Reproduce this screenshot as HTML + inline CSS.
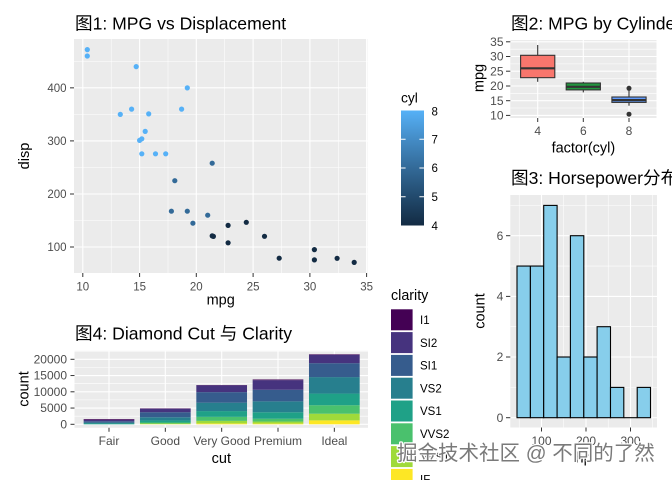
<!DOCTYPE html>
<html><head><meta charset="utf-8"><style>
html,body{margin:0;padding:0;background:#fff;}
svg{display:block;}
text{font-family:"Liberation Sans","Noto Sans CJK SC",sans-serif;}
.tk{fill:#4D4D4D;font-size:11.5px;}
.tk2{fill:#4D4D4D;font-size:12px;}
.at{fill:#000;font-size:14.5px;}
.tt{fill:#000;font-size:17.6px;}
.lg{fill:#000;font-size:11.5px;}
.gM{stroke:#fff;stroke-width:1.1;}
.gm{stroke:#fff;stroke-width:0.55;}
.tm{stroke:#333;stroke-width:1;}
</style></head><body>
<svg width="672" height="480" viewBox="0 0 672 480" xmlns="http://www.w3.org/2000/svg">
<defs>
<linearGradient id="cg" x1="0" y1="1" x2="0" y2="0">
<stop offset="0" stop-color="#132B43"/><stop offset="0.25" stop-color="#224A6D"/><stop offset="0.5" stop-color="#336A98"/><stop offset="0.75" stop-color="#448CC6"/><stop offset="1" stop-color="#56B1F7"/>
</linearGradient>
</defs>
<rect width="672" height="480" fill="#fff"/>

<!-- Plot 1 -->
<text class="tt" x="75" y="29.3">图1: MPG vs Displacement</text>
<rect x="74" y="39" width="293.5" height="234" fill="#EBEBEB"/>
<g class="gm">
<line x1="74" x2="367.5" y1="220.5" y2="220.5"/><line x1="74" x2="367.5" y1="167.4" y2="167.4"/><line x1="74" x2="367.5" y1="114.4" y2="114.4"/><line x1="74" x2="367.5" y1="61.4" y2="61.4"/>
<line y1="39" y2="273" x1="111.2" x2="111.2"/><line y1="39" y2="273" x1="168" x2="168"/><line y1="39" y2="273" x1="224.7" x2="224.7"/><line y1="39" y2="273" x1="281.5" x2="281.5"/><line y1="39" y2="273" x1="338.3" x2="338.3"/>
</g>
<g class="gM">
<line x1="74" x2="367.5" y1="247" y2="247"/><line x1="74" x2="367.5" y1="194" y2="194"/><line x1="74" x2="367.5" y1="140.9" y2="140.9"/><line x1="74" x2="367.5" y1="87.85" y2="87.85"/>
<line y1="39" y2="273" x1="82.8" x2="82.8"/><line y1="39" y2="273" x1="139.6" x2="139.6"/><line y1="39" y2="273" x1="196.3" x2="196.3"/><line y1="39" y2="273" x1="253.1" x2="253.1"/><line y1="39" y2="273" x1="309.9" x2="309.9"/><line y1="39" y2="273" x1="366.6" x2="366.6"/>
</g>
<g class="tm">
<line x1="70" x2="74" y1="247" y2="247"/><line x1="70" x2="74" y1="194" y2="194"/><line x1="70" x2="74" y1="140.9" y2="140.9"/><line x1="70" x2="74" y1="87.85" y2="87.85"/>
<line y1="273" y2="277" x1="82.8" x2="82.8"/><line y1="273" y2="277" x1="139.6" x2="139.6"/><line y1="273" y2="277" x1="196.3" x2="196.3"/><line y1="273" y2="277" x1="253.1" x2="253.1"/><line y1="273" y2="277" x1="309.9" x2="309.9"/><line y1="273" y2="277" x1="366.6" x2="366.6"/>
</g>
<g class="tk" text-anchor="end">
<text x="66.5" y="251">100</text><text x="66.5" y="198">200</text><text x="66.5" y="145">300</text><text x="66.5" y="92">400</text>
</g>
<g class="tk" text-anchor="middle">
<text x="82.8" y="290.5">10</text><text x="139.6" y="290.5">15</text><text x="196.3" y="290.5">20</text><text x="253.1" y="290.5">25</text><text x="309.9" y="290.5">30</text><text x="366.6" y="290.5">35</text>
</g>
<text class="at" x="220.7" y="304.5" text-anchor="middle">mpg</text>
<text class="at" x="29" y="156" text-anchor="middle" transform="rotate(-90 29 156)">disp</text>
<g>
<circle cx="207.7" cy="215.2" r="2.6" fill="#336A98"/>
<circle cx="228.1" cy="242.8" r="2.6" fill="#132B43"/>
<circle cx="212.2" cy="163.2" r="2.6" fill="#336A98"/>
<circle cx="181.6" cy="109.1" r="2.6" fill="#56B1F7"/>
<circle cx="174.8" cy="180.7" r="2.6" fill="#336A98"/>
<circle cx="131.6" cy="109.1" r="2.6" fill="#56B1F7"/>
<circle cx="246.3" cy="222.3" r="2.6" fill="#132B43"/>
<circle cx="228.1" cy="225.4" r="2.6" fill="#132B43"/>
<circle cx="187.3" cy="211.2" r="2.6" fill="#336A98"/>
<circle cx="171.4" cy="211.2" r="2.6" fill="#336A98"/>
<circle cx="155.5" cy="153.8" r="2.6" fill="#56B1F7"/>
<circle cx="165.7" cy="153.8" r="2.6" fill="#56B1F7"/>
<circle cx="141.8" cy="153.8" r="2.6" fill="#56B1F7"/>
<circle cx="87.3" cy="49.6" r="2.6" fill="#56B1F7"/>
<circle cx="87.3" cy="56" r="2.6" fill="#56B1F7"/>
<circle cx="136.2" cy="66.6" r="2.6" fill="#56B1F7"/>
<circle cx="337.1" cy="258.3" r="2.6" fill="#132B43"/>
<circle cx="314.4" cy="259.9" r="2.6" fill="#132B43"/>
<circle cx="354.2" cy="262.4" r="2.6" fill="#132B43"/>
<circle cx="213.4" cy="236.4" r="2.6" fill="#132B43"/>
<circle cx="145.2" cy="131.4" r="2.6" fill="#56B1F7"/>
<circle cx="141.8" cy="138.8" r="2.6" fill="#56B1F7"/>
<circle cx="120.3" cy="114.4" r="2.6" fill="#56B1F7"/>
<circle cx="187.3" cy="87.9" r="2.6" fill="#56B1F7"/>
<circle cx="279.2" cy="258.2" r="2.6" fill="#132B43"/>
<circle cx="264.5" cy="236.3" r="2.6" fill="#132B43"/>
<circle cx="314.4" cy="249.6" r="2.6" fill="#132B43"/>
<circle cx="148.7" cy="113.9" r="2.6" fill="#56B1F7"/>
<circle cx="192.9" cy="223.2" r="2.6" fill="#336A98"/>
<circle cx="139.6" cy="140.4" r="2.6" fill="#56B1F7"/>
<circle cx="212.2" cy="235.9" r="2.6" fill="#132B43"/>
</g>
<!-- cyl legend -->
<text x="401" y="102.5" style="font-size:13.8px">cyl</text>
<rect x="401" y="110.5" width="23" height="115" fill="url(#cg)"/>
<g stroke="#fff" stroke-width="1">
<line x1="401" x2="405.6" y1="196.75" y2="196.75"/><line x1="419.4" x2="424" y1="196.75" y2="196.75"/>
<line x1="401" x2="405.6" y1="168" y2="168"/><line x1="419.4" x2="424" y1="168" y2="168"/>
<line x1="401" x2="405.6" y1="139.25" y2="139.25"/><line x1="419.4" x2="424" y1="139.25" y2="139.25"/>
</g>
<g class="lg">
<text x="431.5" y="115.5">8</text><text x="431.5" y="143.5">7</text><text x="431.5" y="172.2">6</text><text x="431.5" y="201">5</text><text x="431.5" y="229.8">4</text>
</g>

<!-- Plot 2 -->
<text class="tt" x="511" y="29.3">图2: MPG by Cylinders</text>
<rect x="510.3" y="40" width="146.2" height="78" fill="#EBEBEB"/>
<g class="gm">
<line x1="510.3" x2="656.5" y1="108" y2="108"/><line x1="510.3" x2="656.5" y1="93.3" y2="93.3"/><line x1="510.3" x2="656.5" y1="78.6" y2="78.6"/><line x1="510.3" x2="656.5" y1="63.9" y2="63.9"/><line x1="510.3" x2="656.5" y1="49.2" y2="49.2"/>
</g>
<g class="gM">
<line x1="510.3" x2="656.5" y1="115.4" y2="115.4"/><line x1="510.3" x2="656.5" y1="100.7" y2="100.7"/><line x1="510.3" x2="656.5" y1="86" y2="86"/><line x1="510.3" x2="656.5" y1="71.2" y2="71.2"/><line x1="510.3" x2="656.5" y1="56.5" y2="56.5"/><line x1="510.3" x2="656.5" y1="41.8" y2="41.8"/>
<line y1="40" y2="118" x1="537.7" x2="537.7"/><line y1="40" y2="118" x1="583.3" x2="583.3"/><line y1="40" y2="118" x1="629" x2="629"/>
</g>
<g class="tm">
<line x1="506" x2="510.3" y1="115.4" y2="115.4"/><line x1="506" x2="510.3" y1="100.7" y2="100.7"/><line x1="506" x2="510.3" y1="86" y2="86"/><line x1="506" x2="510.3" y1="71.2" y2="71.2"/><line x1="506" x2="510.3" y1="56.5" y2="56.5"/><line x1="506" x2="510.3" y1="41.8" y2="41.8"/>
<line y1="118" y2="122" x1="537.7" x2="537.7"/><line y1="118" y2="122" x1="583.3" x2="583.3"/><line y1="118" y2="122" x1="629" x2="629"/>
</g>
<g class="tk2" text-anchor="end">
<text x="503.5" y="119.6">10</text><text x="503.5" y="104.9">15</text><text x="503.5" y="90.2">20</text><text x="503.5" y="75.4">25</text><text x="503.5" y="60.7">30</text><text x="503.5" y="46">35</text>
</g>
<g class="tk2" text-anchor="middle">
<text x="537.7" y="135">4</text><text x="583.3" y="135">6</text><text x="629" y="135">8</text>
</g>
<text class="at" x="583.4" y="152.3" text-anchor="middle">factor(cyl)</text>
<text class="at" x="483.5" y="78" text-anchor="middle" transform="rotate(-90 483.5 78)">mpg</text>
<g stroke="#333" stroke-width="1.1">
<line x1="537.7" x2="537.7" y1="45" y2="55.3"/><line x1="537.7" x2="537.7" y1="77.7" y2="81.8"/>
<rect x="520.6" y="55.3" width="34.2" height="22.4" fill="#F8766D"/>
<line x1="583.3" x2="583.3" y1="81.8" y2="83"/><line x1="583.3" x2="583.3" y1="89.9" y2="92.4"/>
<rect x="566.2" y="83" width="34.2" height="6.9" fill="#21963E"/>
<line x1="629" x2="629" y1="89.8" y2="97"/><line x1="629" x2="629" y1="102.4" y2="105.7"/>
<rect x="611.9" y="97" width="34.2" height="5.4" fill="#619CFF"/>
</g>
<g stroke="#333" stroke-width="2.2">
<line x1="520.6" x2="554.8" y1="68.3" y2="68.3"/><line x1="566.2" x2="600.4" y1="86.8" y2="86.8"/><line x1="611.9" x2="646.1" y1="100.1" y2="100.1"/>
</g>
<circle cx="629" cy="114.2" r="2.5" fill="#333"/><circle cx="629" cy="88.3" r="2.5" fill="#333"/>

<!-- Plot 3 -->
<text class="tt" x="511" y="184">图3: Horsepower分布</text>
<rect x="510.3" y="195" width="146.7" height="232.5" fill="#EBEBEB"/>
<g class="gm">
<line x1="510.3" x2="657" y1="387.4" y2="387.4"/><line x1="510.3" x2="657" y1="326.7" y2="326.7"/><line x1="510.3" x2="657" y1="266.05" y2="266.05"/><line x1="510.3" x2="657" y1="205.4" y2="205.4"/>
<line y1="195" y2="427.5" x1="519.25" x2="519.25"/><line y1="195" y2="427.5" x1="563.75" x2="563.75"/><line y1="195" y2="427.5" x1="608.25" x2="608.25"/><line y1="195" y2="427.5" x1="652.75" x2="652.75"/>
</g>
<g class="gM">
<line x1="510.3" x2="657" y1="417.7" y2="417.7"/><line x1="510.3" x2="657" y1="357" y2="357"/><line x1="510.3" x2="657" y1="296.4" y2="296.4"/><line x1="510.3" x2="657" y1="235.7" y2="235.7"/>
<line y1="195" y2="427.5" x1="541.5" x2="541.5"/><line y1="195" y2="427.5" x1="586" x2="586"/><line y1="195" y2="427.5" x1="630.5" x2="630.5"/>
</g>
<g class="tm">
<line x1="506" x2="510.3" y1="417.7" y2="417.7"/><line x1="506" x2="510.3" y1="357" y2="357"/><line x1="506" x2="510.3" y1="296.4" y2="296.4"/><line x1="506" x2="510.3" y1="235.7" y2="235.7"/>
<line y1="427.5" y2="431.5" x1="541.5" x2="541.5"/><line y1="427.5" y2="431.5" x1="586" x2="586"/><line y1="427.5" y2="431.5" x1="630.5" x2="630.5"/>
</g>
<g class="tk2" text-anchor="end">
<text x="503.3" y="421.9">0</text><text x="503.3" y="361.2">2</text><text x="503.3" y="300.6">4</text><text x="503.3" y="239.9">6</text>
</g>
<g class="tk2" text-anchor="middle">
<text x="541.5" y="445">100</text><text x="586" y="445">200</text><text x="630.5" y="445">300</text>
</g>
<text class="at" x="583.6" y="462.3" text-anchor="middle">hp</text>
<text class="at" x="484.3" y="311" text-anchor="middle" transform="rotate(-90 484.3 311)">count</text>
<g fill="#87CEEB" stroke="#000" stroke-width="1.1">
<rect x="517" y="266.05" width="13.4" height="151.65"/>
<rect x="530.4" y="266.05" width="13.3" height="151.65"/>
<rect x="543.7" y="205.4" width="13.4" height="212.3"/>
<rect x="557.1" y="357" width="13.3" height="60.7"/>
<rect x="570.4" y="235.7" width="13.4" height="182"/>
<rect x="583.8" y="357" width="13.3" height="60.7"/>
<rect x="597.1" y="326.7" width="13.4" height="91"/>
<rect x="610.5" y="387.4" width="13.3" height="30.3"/>
<line x1="623.8" x2="637.2" y1="417.7" y2="417.7"/>
<rect x="637.2" y="387.4" width="13.3" height="30.3"/>
</g>

<!-- Plot 4 -->
<text class="tt" x="75" y="339.3">图4: Diamond Cut 与 Clarity</text>
<rect x="74.5" y="350.8" width="293.5" height="77" fill="#EBEBEB"/>
<g class="gm">
<line x1="74.5" x2="368" y1="416.2" y2="416.2"/><line x1="74.5" x2="368" y1="399.9" y2="399.9"/><line x1="74.5" x2="368" y1="383.7" y2="383.7"/><line x1="74.5" x2="368" y1="367.4" y2="367.4"/><line x1="74.5" x2="368" y1="351.2" y2="351.2"/>
</g>
<g class="gM">
<line x1="74.5" x2="368" y1="424.3" y2="424.3"/><line x1="74.5" x2="368" y1="408.05" y2="408.05"/><line x1="74.5" x2="368" y1="391.8" y2="391.8"/><line x1="74.5" x2="368" y1="375.55" y2="375.55"/><line x1="74.5" x2="368" y1="359.3" y2="359.3"/>
<line y1="350.8" y2="427.8" x1="109" x2="109"/><line y1="350.8" y2="427.8" x1="165.33" x2="165.33"/><line y1="350.8" y2="427.8" x1="221.67" x2="221.67"/><line y1="350.8" y2="427.8" x1="278" x2="278"/><line y1="350.8" y2="427.8" x1="334.33" x2="334.33"/>
</g>
<g class="tm">
<line x1="70.5" x2="74.5" y1="424.3" y2="424.3"/><line x1="70.5" x2="74.5" y1="408.05" y2="408.05"/><line x1="70.5" x2="74.5" y1="391.8" y2="391.8"/><line x1="70.5" x2="74.5" y1="375.55" y2="375.55"/><line x1="70.5" x2="74.5" y1="359.3" y2="359.3"/>
<line y1="427.8" y2="431.8" x1="109" x2="109"/><line y1="427.8" y2="431.8" x1="165.33" x2="165.33"/><line y1="427.8" y2="431.8" x1="221.67" x2="221.67"/><line y1="427.8" y2="431.8" x1="278" x2="278"/><line y1="427.8" y2="431.8" x1="334.33" x2="334.33"/>
</g>
<g class="tk2" text-anchor="end">
<text x="67" y="428.3">0</text><text x="67" y="412.05">5000</text><text x="67" y="395.8">10000</text><text x="67" y="379.55">15000</text><text x="67" y="363.3">20000</text>
</g>
<g class="tk2" text-anchor="middle">
<text x="109" y="445">Fair</text><text x="165.33" y="445">Good</text><text x="221.67" y="445">Very Good</text><text x="278" y="445">Premium</text><text x="334.33" y="445">Ideal</text>
</g>
<text class="at" x="221.3" y="463" text-anchor="middle">cut</text>
<text class="at" x="28.3" y="389" text-anchor="middle" transform="rotate(-90 28.3 389)">count</text>
<g>
<rect x="83.65" y="423.44" width="50.7" height="0.86" fill="#1FA187"/>
<rect x="83.65" y="422.59" width="50.7" height="0.85" fill="#277F8E"/>
<rect x="83.65" y="421.26" width="50.7" height="1.33" fill="#365C8D"/>
<rect x="83.65" y="419.75" width="50.7" height="1.51" fill="#46337E"/>
<rect x="83.65" y="419.07" width="50.7" height="0.68" fill="#440154"/>
<rect x="139.98" y="424.07" width="50.7" height="0.23" fill="#FDE725"/>
<rect x="139.98" y="423.46" width="50.7" height="0.61" fill="#9FDA3A"/>
<rect x="139.98" y="422.54" width="50.7" height="0.92" fill="#4AC16D"/>
<rect x="139.98" y="420.43" width="50.7" height="2.11" fill="#1FA187"/>
<rect x="139.98" y="417.25" width="50.7" height="3.18" fill="#277F8E"/>
<rect x="139.98" y="412.18" width="50.7" height="5.07" fill="#365C8D"/>
<rect x="139.98" y="408.67" width="50.7" height="3.51" fill="#46337E"/>
<rect x="139.98" y="408.36" width="50.7" height="0.31" fill="#440154"/>
<rect x="196.32" y="423.43" width="50.7" height="0.87" fill="#FDE725"/>
<rect x="196.32" y="420.86" width="50.7" height="2.57" fill="#9FDA3A"/>
<rect x="196.32" y="416.85" width="50.7" height="4.01" fill="#4AC16D"/>
<rect x="196.32" y="411.08" width="50.7" height="5.77" fill="#1FA187"/>
<rect x="196.32" y="402.66" width="50.7" height="8.42" fill="#277F8E"/>
<rect x="196.32" y="392.13" width="50.7" height="10.53" fill="#365C8D"/>
<rect x="196.32" y="385.31" width="50.7" height="6.82" fill="#46337E"/>
<rect x="196.32" y="385.03" width="50.7" height="0.28" fill="#440154"/>
<rect x="252.65" y="423.55" width="50.7" height="0.75" fill="#FDE725"/>
<rect x="252.65" y="421.55" width="50.7" height="2" fill="#9FDA3A"/>
<rect x="252.65" y="418.72" width="50.7" height="2.83" fill="#4AC16D"/>
<rect x="252.65" y="412.26" width="50.7" height="6.46" fill="#1FA187"/>
<rect x="252.65" y="401.35" width="50.7" height="10.91" fill="#277F8E"/>
<rect x="252.65" y="389.73" width="50.7" height="11.62" fill="#365C8D"/>
<rect x="252.65" y="380.15" width="50.7" height="9.58" fill="#46337E"/>
<rect x="252.65" y="379.48" width="50.7" height="0.67" fill="#440154"/>
<rect x="308.98" y="420.36" width="50.7" height="3.94" fill="#FDE725"/>
<rect x="308.98" y="413.71" width="50.7" height="6.65" fill="#9FDA3A"/>
<rect x="308.98" y="405.24" width="50.7" height="8.47" fill="#4AC16D"/>
<rect x="308.98" y="393.57" width="50.7" height="11.67" fill="#1FA187"/>
<rect x="308.98" y="377.09" width="50.7" height="16.48" fill="#277F8E"/>
<rect x="308.98" y="363.18" width="50.7" height="13.91" fill="#365C8D"/>
<rect x="308.98" y="354.74" width="50.7" height="8.44" fill="#46337E"/>
<rect x="308.98" y="354.26" width="50.7" height="0.48" fill="#440154"/>
</g>
<!-- clarity legend -->
<text x="391" y="300" style="font-size:14.3px">clarity</text>
<g>
<rect x="391" y="309.3" width="21.6" height="21" fill="#440154"/>
<rect x="391" y="332.1" width="21.6" height="21" fill="#46337E"/>
<rect x="391" y="354.9" width="21.6" height="21" fill="#365C8D"/>
<rect x="391" y="377.7" width="21.6" height="21" fill="#277F8E"/>
<rect x="391" y="400.5" width="21.6" height="21" fill="#1FA187"/>
<rect x="391" y="423.3" width="21.6" height="21" fill="#4AC16D"/>
<rect x="391" y="446.1" width="21.6" height="21" fill="#9FDA3A"/>
<rect x="391" y="468.9" width="21.6" height="21" fill="#FDE725"/>
</g>
<g class="lg">
<text x="420" y="324">I1</text><text x="420" y="346.8">SI2</text><text x="420" y="369.6">SI1</text><text x="420" y="392.4">VS2</text><text x="420" y="415.2">VS1</text><text x="420" y="438">VVS2</text><text x="420" y="460.8">VVS1</text><text x="420" y="483.6">IF</text>
</g>

<!-- watermark -->
<text x="397" y="460" style="font-size:20.5px;font-family:'Liberation Sans','Noto Sans CJK SC',sans-serif;paint-order:stroke;" fill="#7a7a7a" stroke="#fff" stroke-width="2.5" stroke-linejoin="round">掘金技术社区 @ 不同的了然</text>
</svg>
</body></html>
